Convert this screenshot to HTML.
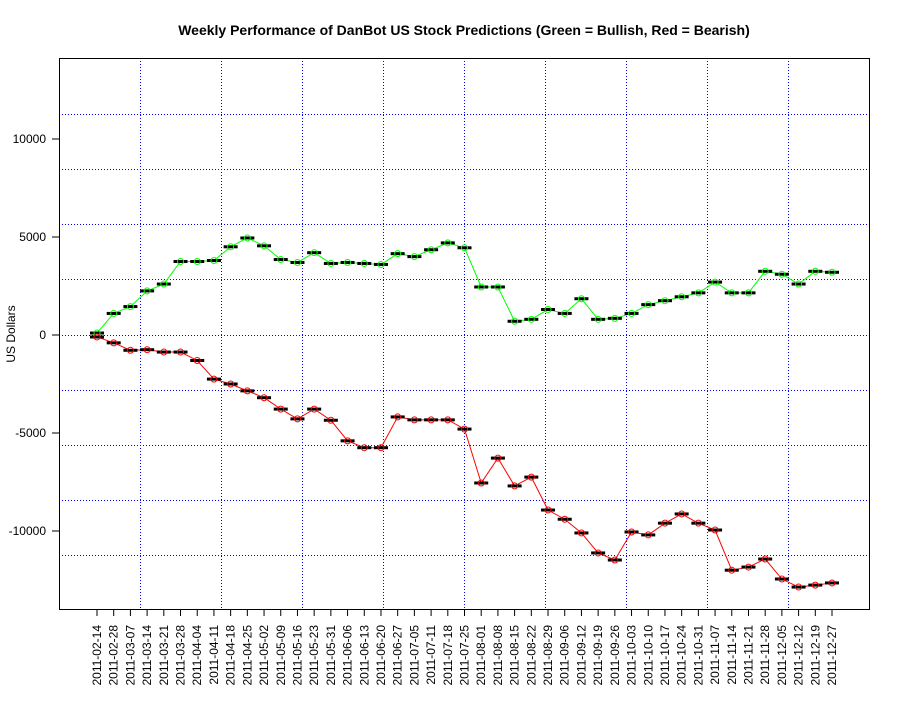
<!DOCTYPE html>
<html><head><meta charset="utf-8"><style>
body{margin:0;background:#fff;}
svg text{font-family:"Liberation Sans",sans-serif;}
</style></head><body>
<svg id="chart" width="900" height="700" xmlns="http://www.w3.org/2000/svg">
<rect width="900" height="700" fill="#fff"/>
<text x="464" y="35" text-anchor="middle" font-size="14" font-weight="bold">Weekly Performance of DanBot US Stock Predictions (Green = Bullish, Red = Bearish)</text>
<text transform="translate(15,334) rotate(-90)" text-anchor="middle" font-size="12">US Dollars</text>
<g id="grid"></g><g id="axes"></g><g id="series"></g>
<rect x="59.5" y="58.5" width="810" height="551" fill="none" stroke="#000" stroke-width="1"/>
</svg>
<script>
const dates=["2011-02-14","2011-02-28","2011-03-07","2011-03-14","2011-03-21","2011-03-28","2011-04-04","2011-04-11","2011-04-18","2011-04-25","2011-05-02","2011-05-09","2011-05-16","2011-05-23","2011-05-31","2011-06-06","2011-06-13","2011-06-20","2011-06-27","2011-07-05","2011-07-11","2011-07-18","2011-07-25","2011-08-01","2011-08-08","2011-08-15","2011-08-22","2011-08-29","2011-09-06","2011-09-12","2011-09-19","2011-09-26","2011-10-03","2011-10-10","2011-10-17","2011-10-24","2011-10-31","2011-11-07","2011-11-14","2011-11-21","2011-11-28","2011-12-05","2011-12-12","2011-12-19","2011-12-27"];
const bullish=[100,1100,1450,2250,2600,3750,3750,3800,4500,4950,4550,3850,3700,4200,3650,3700,3650,3600,4150,4000,4350,4700,4450,2450,2450,700,800,1300,1100,1850,800,850,1100,1550,1750,1950,2150,2700,2150,2150,3250,3100,2600,3250,3200];
const bearish=[-100,-400,-780,-750,-870,-870,-1300,-2250,-2500,-2850,-3200,-3780,-4280,-3780,-4350,-5400,-5750,-5750,-4180,-4330,-4330,-4330,-4800,-7550,-6280,-7700,-7250,-8930,-9400,-10100,-11120,-11480,-10050,-10200,-9600,-9130,-9600,-9950,-12000,-11840,-11430,-12450,-12860,-12760,-12650];
const yTicks=[-10000,-5000,0,5000,10000];
const NS="http://www.w3.org/2000/svg";
const L=59,R=869,T=58,B=609;
const xs=i=>97+i*(832-97)/(dates.length-1);
const ys=v=>335-v*98/5000;
function mk(tag,attrs,parent){const e=document.createElementNS(NS,tag);for(const k in attrs)e.setAttribute(k,attrs[k]);parent.appendChild(e);return e;}
const grid=document.getElementById('grid'),axes=document.getElementById('axes'),ser=document.getElementById('series');
for(let k=1;k<10;k++){
 const gx=Math.round(L+k*(R-L)/10)+0.5;
 const v=mk('line',{x1:gx,x2:gx,y1:T,y2:B,stroke:'#00f','stroke-width':1,'stroke-dasharray':'1 2'},grid);
 
 
 const gy=Math.round(T+1+k*(B-T)/10)+0.5;
 const h=mk('line',{x1:L,x2:R,y1:gy,y2:gy,stroke:'#00f','stroke-width':1,'stroke-dasharray':'1 2'},grid);
 
 
}
yTicks.forEach(t=>{
 const y=ys(t);
 const tk=mk('line',{x1:52,x2:L,y1:y,y2:y,stroke:'#000'},axes);
 
 
 const tx=mk('text',{x:46,y:y+4,'text-anchor':'end','font-size':12},axes);
 tx.textContent=t;
 
 
});
dates.forEach((d,i)=>{
 const x=xs(i);
 const tk=mk('line',{x1:x,x2:x,y1:B,y2:616,stroke:'#000'},axes);
 
 
 const tx=mk('text',{transform:`translate(${x+4},625) rotate(-90)`,'text-anchor':'end','font-size':12},axes);
 tx.textContent=d;
 
 
});
function series(vals,color,name){
 const pl=mk('polyline',{points:vals.map((v,i)=>xs(i)+','+ys(v)).join(' '),fill:'none',stroke:color,'stroke-width':1},ser);
 
 
 vals.forEach((v,i)=>{
  const b=mk('rect',{x:xs(i)-7,y:ys(v)-1.5,width:14,height:3,fill:'#000'},ser);
  
  
  const c=mk('circle',{cx:xs(i),cy:ys(v),r:3,fill:'none',stroke:color,'stroke-width':1},ser);
  
  
 });
}
series(bullish,'#0f0','bullish');
series(bearish,'#f00','bearish');
</script>
</body></html>
